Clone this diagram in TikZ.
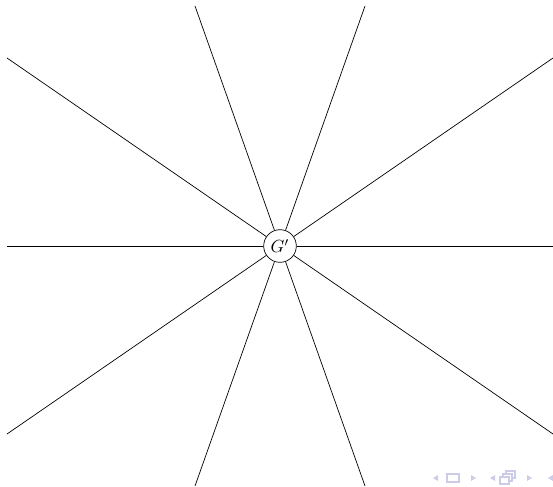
\documentclass[tikz,border=0pt]{standalone}
\usepackage{amsmath,amssymb}
\usepackage{xcolor}
\usepackage{tikz}
\usetikzlibrary{arrows.meta}

\definecolor{navcol}{RGB}{204,204,232}

\begin{document}
\begin{tikzpicture}[x=0.02cm, y=-0.02cm]
    % Frame
    \useasboundingbox (0,0) rectangle (553,486);

    % Centre vertex
    \node[draw, circle, inner sep=2pt, fill=white] (G) at (280,246) {$G'$};

    % Free ends of the rays
    \coordinate (L)  at (7,246);
    \coordinate (R)  at (553,246);
    \coordinate (TL) at (195,6);
    \coordinate (TR) at (365,6);
    \coordinate (UL) at (7,58);
    \coordinate (UR) at (553,58);
    \coordinate (DL) at (7,434);
    \coordinate (DR) at (553,434);
    \coordinate (BL) at (195,486);
    \coordinate (BR) at (365,486);

    % Rays
    \foreach \e in {L,R,TL,TR,UL,UR,DL,DR,BL,BR}
        \draw (G) -- (\e);

    % Navigation symbols
    \fill[navcol] (433,478) -- (438,475) -- (438,481) -- cycle;
    \draw[navcol, thick] (447,474) rectangle (459,482);
    \fill[navcol] (476,478) -- (471,475) -- (471,481) -- cycle;
    \fill[navcol] (490,478) -- (495,475) -- (495,481) -- cycle;
    \draw[navcol, thick, fill=white] (506,471) rectangle (515,478);
    \draw[navcol, thick, fill=white] (503,474) rectangle (512,481);
    \draw[navcol, thick, fill=white] (500,477) rectangle (509,484);
    \fill[navcol] (532,478) -- (527,475) -- (527,481) -- cycle;
    \fill[navcol] (548,478) -- (553,475) -- (553,481) -- cycle;
\end{tikzpicture}
\end{document}
